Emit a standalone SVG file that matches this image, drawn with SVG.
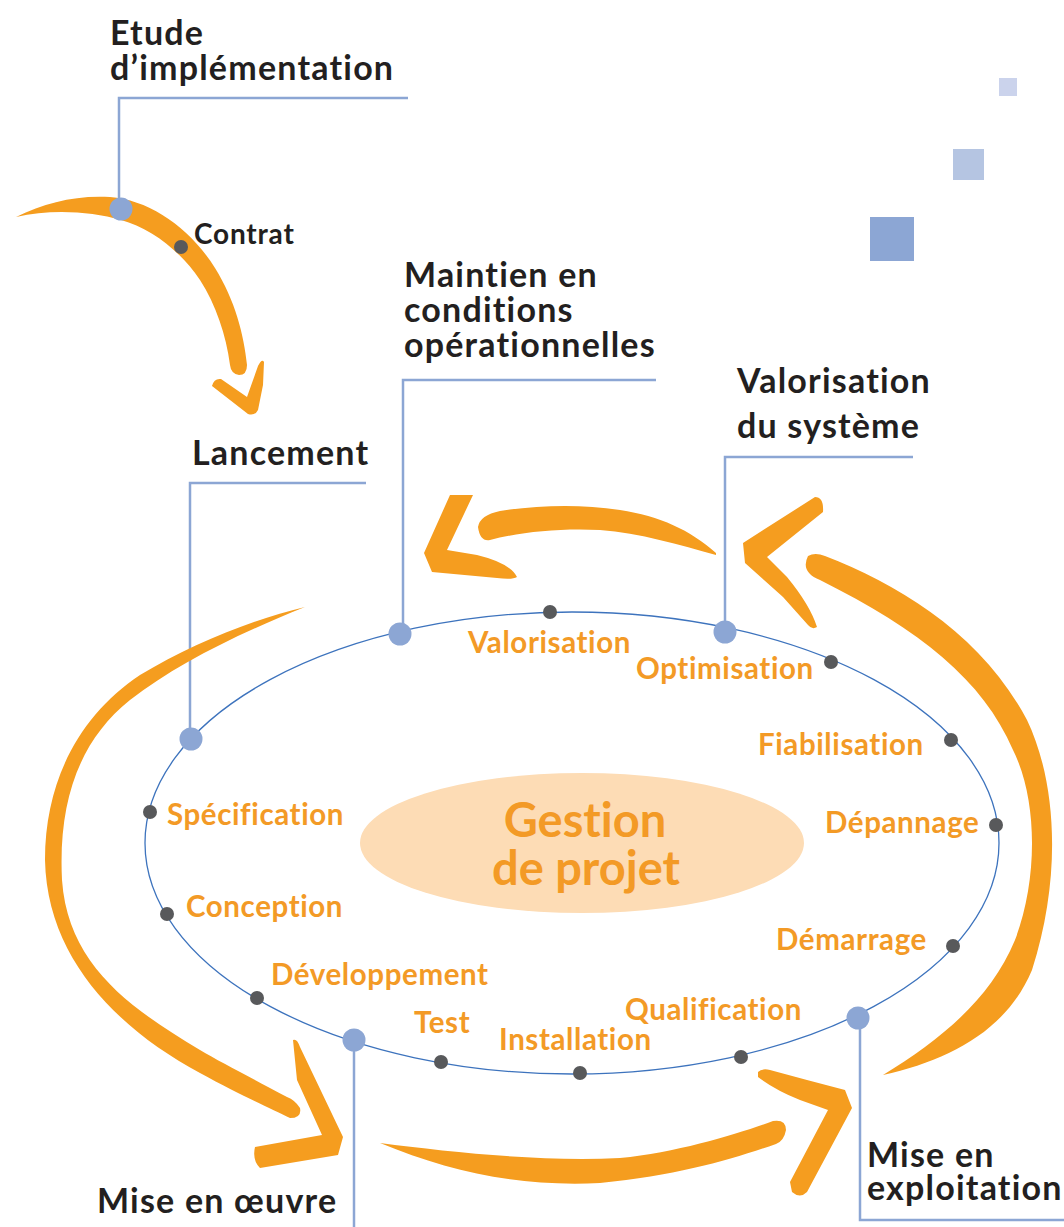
<svg xmlns="http://www.w3.org/2000/svg" width="1064" height="1227" viewBox="0 0 1064 1227">
<style>
text{font-variant-ligatures:none}
.ttl{font-family:Lato,"Open Sans","Liberation Sans",sans-serif;font-weight:700;fill:#231f20;font-size:34px;letter-spacing:1.2px}
.lbl{font-family:Lato,"Open Sans","Liberation Sans",sans-serif;font-weight:700;fill:#f39a26;font-size:29.5px;letter-spacing:0.6px}
.big{font-family:Lato,"Open Sans","Liberation Sans",sans-serif;font-weight:700;fill:#f39a26;font-size:47px}
.arw{fill:#f59d1f;stroke:none}
.lead{fill:none;stroke:#8ca6d4;stroke-width:2.5}
.dk{fill:#58595b}
.bl{fill:#8ca6d4}
</style>
<rect width="1064" height="1227" fill="#ffffff"/>
<g id="decor">
<rect x="999" y="78" width="18" height="18" fill="#cbd3ec"/>
<rect x="953" y="149" width="31" height="31" fill="#b5c5e2"/>
<rect x="870" y="217" width="44" height="44" fill="#8ca6d4"/>
</g>
<g id="connectors">
<path class="lead" d="M408,98 H119 V209"/>
<path class="lead" d="M656,380 H403 V634"/>
<path class="lead" d="M913,457 H725 V632"/>
<path class="lead" d="M366,483 H190 V739"/>
<path class="lead" d="M354,1040 V1227"/>
<path class="lead" d="M860,1018 V1220 H1064"/>
<ellipse cx="572" cy="843" rx="427" ry="231" fill="none" stroke="#3d73bd" stroke-width="1.3"/>
<g id="arrow-top-left">
<path class="arw" d="M16,217 C45,203 75,195 110,197 C150,200 190,228 215,268 C235,300 244,335 247,365 Q247,375 239,375 Q231,374 230,365 C226,335 216,305 200,280 C180,250 150,228 121,220 C90,211 50,209 16,217 Z"/>
<path class="arw" d="M212,386 Q214,378 221,379 L247,397 L258,366 Q262,358 264,362 L263,385 L258,410 Q255,416 248,414 Z"/>
</g>
<g id="arrow-top">
<path class="arw" d="M716,553 C690,530 660,516 620,510 C580,504 540,505 500,511 Q480,515 478,527 Q480,542 490,540 C520,532 560,528 600,530 C640,533 680,545 716,555 Z"/>
<path class="arw" d="M450,495 L473,495 L447,550 L477,555 Q510,563 517,577 Q512,580 497,578 L432,572 L424,553 Z"/>
</g>
<g id="arrow-right">
<path class="arw" d="M808,556 Q815,552 825,556 C900,585 982,635 1027,720 C1058,785 1061,880 1032,970 C1007,1030 950,1060 883,1075 C940,1040 990,1000 1015,940 C1038,880 1038,800 1013,750 C983,680 920,630 820,580 Q800,572 808,556 Z"/>
<path class="arw" d="M743,543 L815,497 Q824,497 823,512 L767,557 L787,577 Q810,605 817,627 Q812,630 808,625 L783,597 L745,563 Z"/>
</g>
<g id="arrow-left">
<path class="arw" d="M305,607 C250,620 190,645 140,675 C80,715 45,780 45,860 C47,960 120,1030 200,1073 C240,1095 270,1108 290,1118 Q302,1118 300,1108 Q295,1100 287,1097 C250,1077 220,1062 200,1050 C130,1008 68,965 62,880 C58,800 80,740 130,700 C175,665 235,635 305,607 Z"/>
<path class="arw" d="M293,1040 Q297,1038 300,1047 L343,1137 L338,1155 L260,1168 Q252,1160 255,1147 L322,1135 L297,1080 Z"/>
</g>
<g id="arrow-bottom">
<path class="arw" d="M380,1143 C450,1152 540,1162 620,1158 C680,1152 740,1133 773,1121 Q786,1119 786,1130 Q784,1141 776,1144 C730,1160 680,1175 600,1183 C520,1187 450,1172 380,1143 Z"/>
<path class="arw" d="M758,1072 Q762,1068 770,1070 L807,1080 L845,1090 L852,1108 L807,1192 Q800,1199 792,1192 L790,1182 L828,1110 L800,1100 Q775,1090 758,1077 Z"/>
</g>
</g>
<g id="center">
<ellipse cx="582" cy="843" rx="222" ry="70" fill="#fddcb5"/>
<text class="big" x="585" y="837" text-anchor="middle">Gestion</text>
<text class="big" x="586" y="885" text-anchor="middle">de projet</text>
</g>
<g id="n-etude"><circle class="bl" cx="121" cy="209" r="11.5"/><text class="ttl" x="110" y="45">Etude</text><text class="ttl" x="110" y="80">d’implémentation</text></g>
<g id="n-contrat"><circle class="dk" cx="181" cy="247" r="7"/><text class="ttl" x="194" y="244" style="font-size:28px;letter-spacing:0.8px">Contrat</text></g>
<g id="n-maintien"><circle class="bl" cx="400" cy="634" r="11.5"/><text class="ttl" x="404" y="287">Maintien en</text><text class="ttl" x="404" y="322">conditions</text><text class="ttl" x="404" y="357">opérationnelles</text></g>
<g id="n-valsys"><circle class="bl" cx="725" cy="632" r="11.5"/><text class="ttl" x="737" y="393">Valorisation</text><text class="ttl" x="737" y="438">du système</text></g>
<g id="n-lancement"><circle class="bl" cx="191" cy="739" r="11.5"/><text class="ttl" x="192" y="465">Lancement</text></g>
<g id="n-oeuvre"><circle class="bl" cx="354" cy="1040" r="11.5"/><text class="ttl" x="97" y="1213">Mise en œuvre</text></g>
<g id="n-exploit"><circle class="bl" cx="858" cy="1018" r="11.5"/><text class="ttl" x="867" y="1167">Mise en</text><text class="ttl" x="867" y="1200">exploitation</text></g>
<g id="n-valorisation"><circle class="dk" cx="550" cy="612" r="7"/><text class="lbl" x="468" y="653">Valorisation</text></g>
<g id="n-optimisation"><circle class="dk" cx="831" cy="662" r="7"/><text class="lbl" x="636" y="679">Optimisation</text></g>
<g id="n-fiabilisation"><circle class="dk" cx="951" cy="740" r="7"/><text class="lbl" x="758" y="755">Fiabilisation</text></g>
<g id="n-depannage"><circle class="dk" cx="996" cy="825" r="7"/><text class="lbl" x="825" y="833">Dépannage</text></g>
<g id="n-demarrage"><circle class="dk" cx="953" cy="946" r="7"/><text class="lbl" x="776" y="950">Démarrage</text></g>
<g id="n-qualification"><circle class="dk" cx="741" cy="1057" r="7"/><text class="lbl" x="625" y="1020">Qualification</text></g>
<g id="n-installation"><circle class="dk" cx="580" cy="1073" r="7"/><text class="lbl" x="499" y="1050">Installation</text></g>
<g id="n-test"><circle class="dk" cx="441" cy="1062" r="7"/><text class="lbl" x="414" y="1033">Test</text></g>
<g id="n-developpement"><circle class="dk" cx="257" cy="998" r="7"/><text class="lbl" x="271" y="985">Développement</text></g>
<g id="n-conception"><circle class="dk" cx="167" cy="914" r="7"/><text class="lbl" x="186" y="917">Conception</text></g>
<g id="n-specification"><circle class="dk" cx="150" cy="812" r="7"/><text class="lbl" x="167" y="825">Spécification</text></g>
</svg>
